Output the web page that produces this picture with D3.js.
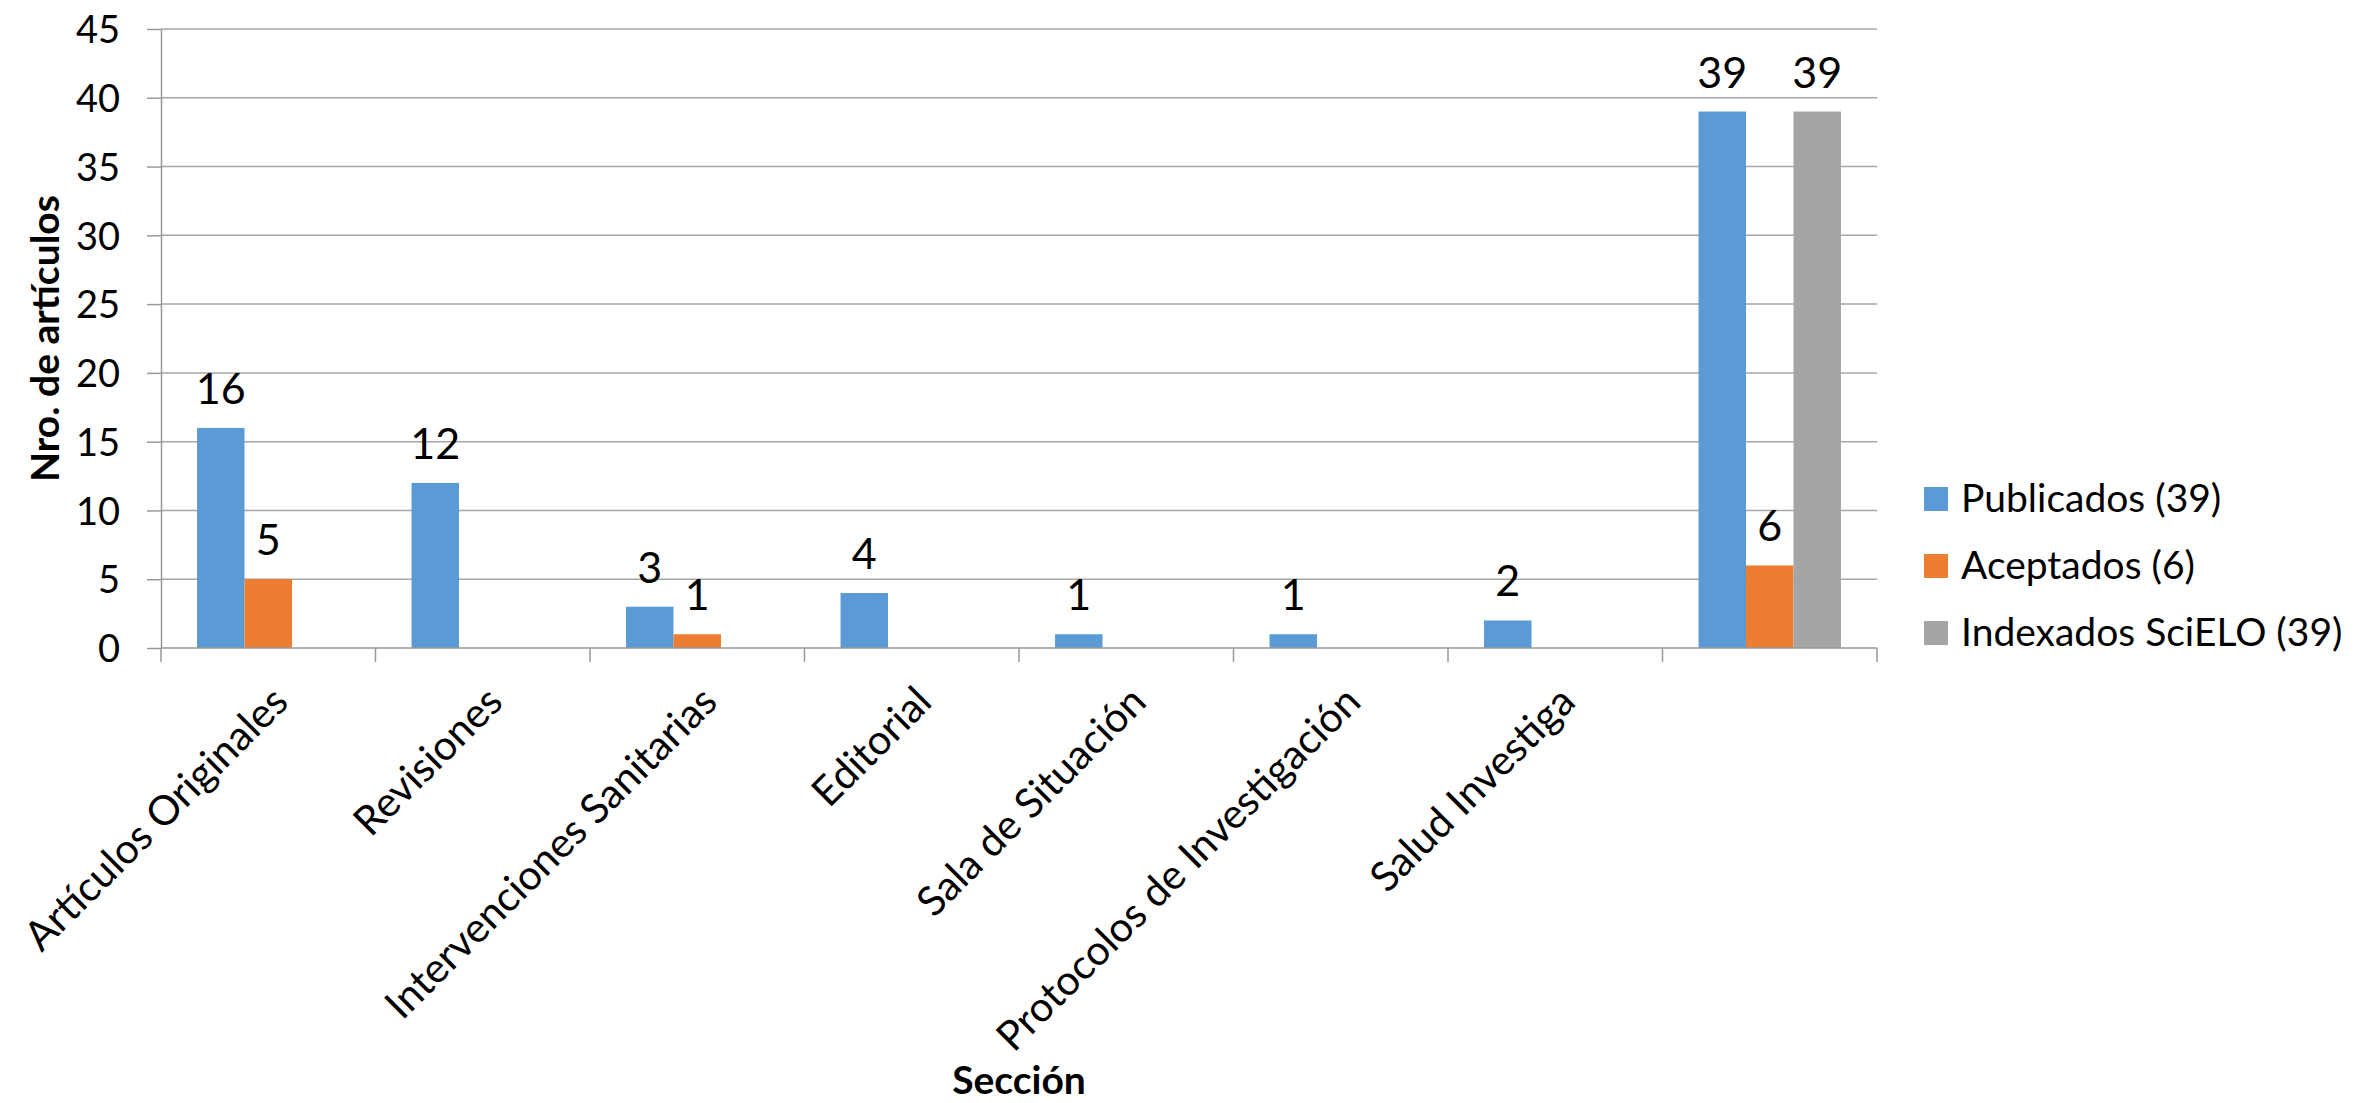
<!DOCTYPE html>
<html>
<head>
<meta charset="utf-8">
<script src="https://cdn.jsdelivr.net/npm/d3@7"></script>
<style>
  html, body { margin: 0; padding: 0; background: #ffffff; }
  svg { display: block; }
  text { font-family: Lato, "Open Sans", sans-serif; fill: #000; }
</style>
</head>
<body>
<svg id="chart" width="2355" height="1103"></svg>
<script>
const categories = ["Artículos Originales", "Revisiones", "Intervenciones Sanitarias", "Editorial",
  "Sala de Situación", "Protocolos de Investigación", "Salud Investiga", ""];
const seriesNames = ["Publicados (39)", "Aceptados (6)", "Indexados SciELO (39)"];
const publicados = [16, 12, 3, 4, 1, 1, 2, 39];
const aceptados  = [5, null, 1, null, null, null, null, 6];
const indexados  = [null, null, null, null, null, null, null, 39];
const seriesColors = ["#5B9BD5", "#ED7D31", "#A5A5A5"];
const yTicks = [0, 5, 10, 15, 20, 25, 30, 35, 40, 45];
const yTitle = "Nro. de artículos";
const xTitle = "Sección";

const svg = d3.select("#chart");
const pLeft = 161, pRight = 1877, pTop = 29, pBottom = 648;

const x = d3.scaleBand().domain(d3.range(categories.length)).range([pLeft, pRight]).paddingInner(0).paddingOuter(0);
const y = d3.scaleLinear().domain([0, 45]).range([pBottom, pTop]);
const groupW = x.bandwidth() * 0.664;
const xs = d3.scaleBand().domain(d3.range(seriesNames.length)).range([0, groupW]).padding(0);

// gridlines
svg.append("g").selectAll("line").data(yTicks.filter(d => d > 0)).join("line")
  .attr("x1", pLeft).attr("x2", pRight)
  .attr("y1", d => y(d)).attr("y2", d => y(d))
  .attr("stroke", "#a6a6a6").attr("stroke-width", 1.5);

// y axis
const yAxis = svg.append("g").attr("transform", `translate(${pLeft},0)`)
  .call(d3.axisLeft(y).tickValues(yTicks).tickSizeInner(14).tickSizeOuter(0).tickPadding(27));
yAxis.select(".domain").attr("stroke", "#999").attr("stroke-width", 1.5);
yAxis.selectAll(".tick line").attr("stroke", "#999").attr("stroke-width", 1.5);
yAxis.selectAll(".tick text").attr("font-family", "Lato").attr("font-size", 38).attr("fill", "#000")
  .attr("dy", "0.36em");

// bars
const series = [publicados, aceptados, indexados];
const barData = [];
series.forEach((vals, si) => vals.forEach((v, ci) => { if (v != null) barData.push({ si, ci, v }); }));
const barX = d => x(d.ci) + (x.bandwidth() - groupW) / 2 + xs(d.si);

svg.append("g").selectAll("rect").data(barData).join("rect")
  .attr("x", barX).attr("width", xs.bandwidth())
  .attr("y", d => y(d.v)).attr("height", d => y(0) - y(d.v))
  .attr("fill", d => seriesColors[d.si]);

// data labels
svg.append("g").selectAll("text").data(barData).join("text")
  .attr("x", d => barX(d) + xs.bandwidth() / 2)
  .attr("y", d => y(d.v) - 24)
  .attr("text-anchor", "middle").attr("font-size", 43)
  .text(d => d.v);

// x axis line and category boundary ticks
svg.append("line").attr("x1", pLeft).attr("x2", pRight).attr("y1", pBottom).attr("y2", pBottom)
  .attr("stroke", "#999").attr("stroke-width", 1.5);
const bounds = d3.range(categories.length + 1).map(i => i < categories.length ? x(i) : pRight);
svg.append("g").selectAll("line").data(bounds).join("line")
  .attr("x1", d => d).attr("x2", d => d).attr("y1", pBottom).attr("y2", pBottom + 14)
  .attr("stroke", "#999").attr("stroke-width", 1.5);

// category labels
svg.append("g").selectAll("text").data(categories).join("text")
  .attr("transform", (d, i) => `translate(${x(i) + x.bandwidth() / 2 + 12},${694}) rotate(-45)`)
  .attr("text-anchor", "end").attr("dy", "0.35em").attr("font-size", 41)
  .text(d => d);

// axis titles
svg.append("text").attr("transform", `translate(59,${(pTop + pBottom) / 2}) rotate(-90)`)
  .attr("text-anchor", "middle").attr("font-weight", "bold").attr("font-size", 39)
  .text(yTitle);
svg.append("text").attr("x", (pLeft + pRight) / 2).attr("y", 1094)
  .attr("text-anchor", "middle").attr("font-weight", "bold").attr("font-size", 39)
  .text(xTitle);

// legend
const legend = svg.append("g").selectAll("g").data(seriesNames).join("g")
  .attr("transform", (d, i) => `translate(1924,${499 + i * 67})`);
legend.append("rect").attr("x", 0).attr("y", -12).attr("width", 24).attr("height", 24)
  .attr("fill", (d, i) => seriesColors[i]);
legend.append("text").attr("x", 37).attr("y", 13).attr("font-size", 39).text(d => d);
</script>
</body>
</html>
